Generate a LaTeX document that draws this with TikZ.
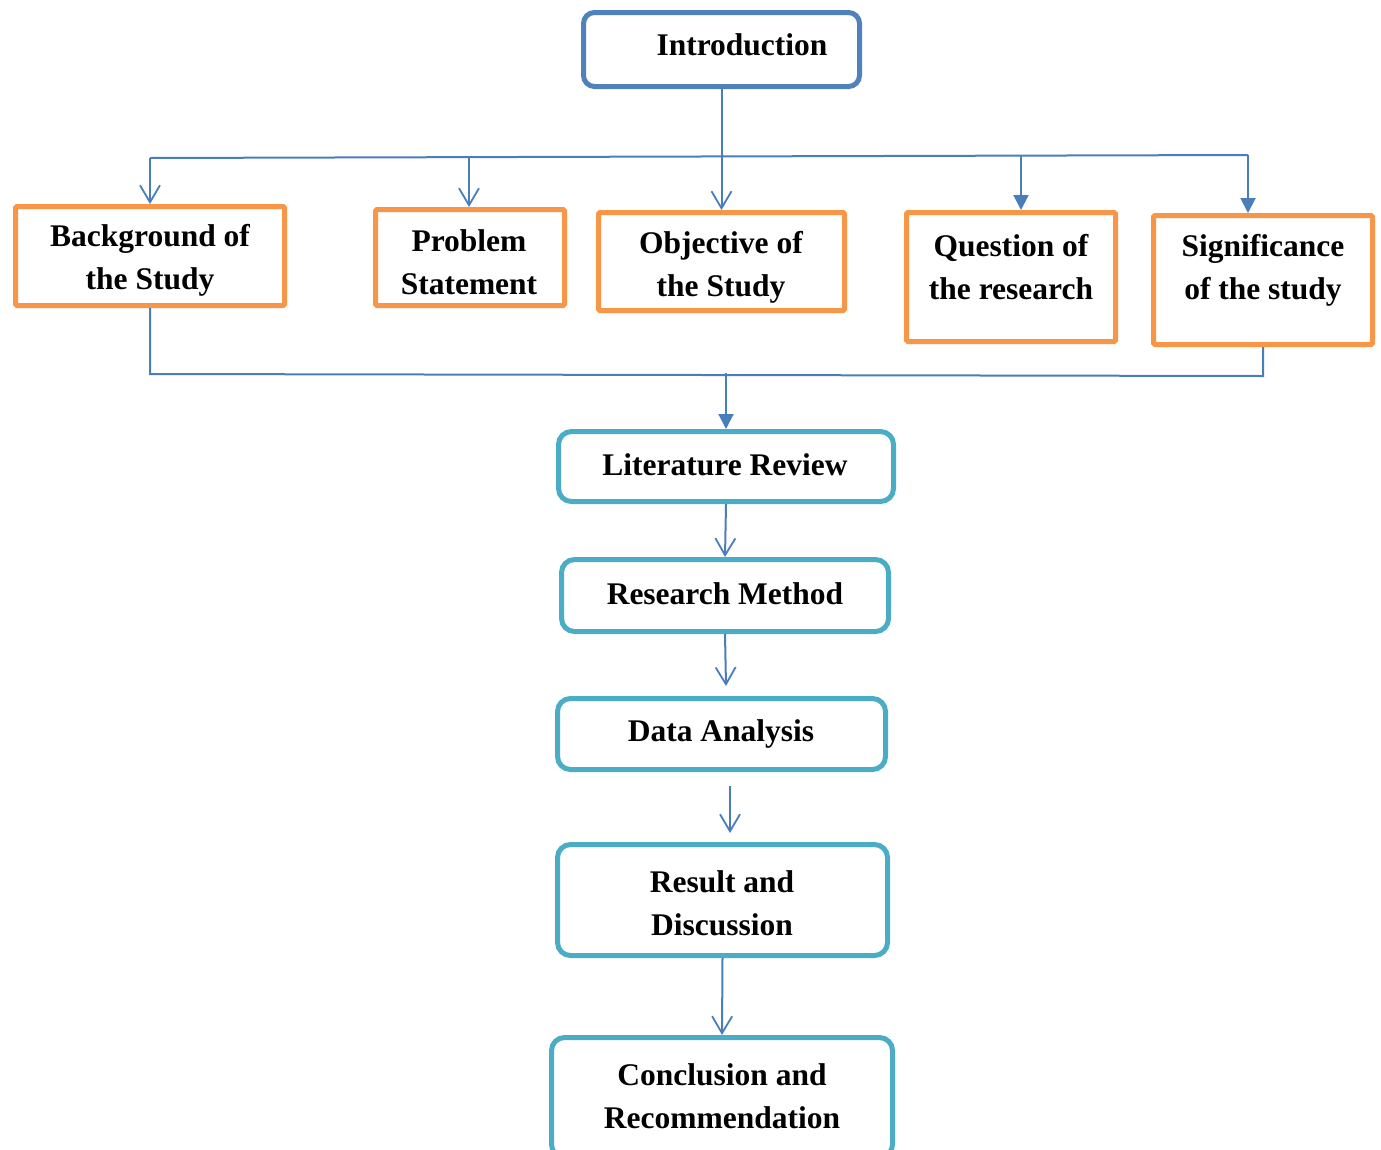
\documentclass[tikz,border=0pt]{standalone}
\usepackage{fontspec}
\setmainfont{Liberation Serif}
\usetikzlibrary{arrows.meta}
\definecolor{introblue}{RGB}{79,129,189}
\definecolor{lineblue}{RGB}{74,126,187}
\definecolor{orangebox}{RGB}{247,150,70}
\definecolor{tealbox}{RGB}{75,172,198}
\tikzset{
  introbox/.style={draw=introblue, line width=5pt, rounded corners=11pt, inner sep=0pt},
  obox/.style={draw=orangebox, line width=5pt, rounded corners=1.5pt, inner sep=0pt},
  tbox/.style={draw=tealbox, line width=5pt, rounded corners=13pt, inner sep=0pt},
  lbl/.style={font=\fontsize{31.5}{43}\selectfont\bfseries, align=center, inner sep=0pt},
  conn/.style={draw=lineblue, line width=2pt},
  openarr/.style={conn, -{Straight Barb[length=17pt,width=20pt,line width=1.8pt]}},
  fillarr/.style={conn, -{Triangle[length=15pt,width=15pt]}}
}
\begin{document}
\begin{tikzpicture}[x=1pt,y=-1pt]
\useasboundingbox (0,0) rectangle (1381,1149);
\fill[white] (0,0) rectangle (1381,1149);
% boxes
\node[introbox, minimum width=276pt, minimum height=74pt] (intro) at (721.5,49.5) {};
\node[obox, minimum width=269pt, minimum height=99pt] (bg) at (150,256) {};
\node[obox, minimum width=189pt, minimum height=96pt] (ps) at (470,257.5) {};
\node[obox, minimum width=246pt, minimum height=98pt] (obj) at (721.5,261.5) {};
\node[obox, minimum width=209pt, minimum height=129pt] (q) at (1011,277) {};
\node[obox, minimum width=219pt, minimum height=129pt] (sig) at (1263,280) {};
\node[tbox, minimum width=335pt, minimum height=70pt] (lr) at (726,466.5) {};
\node[tbox, minimum width=327pt, minimum height=72pt] (rm) at (725,595.5) {};
\node[tbox, minimum width=328pt, minimum height=71pt] (da) at (721.5,734) {};
\node[tbox, minimum width=330pt, minimum height=111pt] (rd) at (722.5,900) {};
\node[tbox, minimum width=341pt, minimum height=120pt] (cr) at (722,1097.5) {};
% labels
\node[lbl] (introt) at (742,45) {Introduction};
\node[lbl] (bgt) at (150,260) {Background of\\the Study};
\node[lbl] (pst) at (469,262) {Problem\\Statement};
\node[lbl] (objt) at (721,267) {Objective of\\the Study};
\node[lbl] (qt) at (1011,267) {Question of\\the research};
\node[lbl] (sigt) at (1263,270) {Significance\\of the study};
\node[lbl] (lrt) at (725,465) {Literature Review};
\node[lbl] (rmt) at (725,594) {Research Method};
\node[lbl] (dat) at (721,734) {Data Analysis};
\node[lbl] (rdt) at (722,903) {Result and\\Discussion};
\node[lbl] (crt) at (722,1096) {Conclusion and\\Recommendation};
% connectors top
\coordinate (hl) at (150,158);
\coordinate (hr) at (1248,155);
\coordinate (hp) at (469,158);
\coordinate (hq) at (1021,156);
\draw[conn] (hl) -- (hr);
\draw[openarr] (intro.south) -- (obj.north);
\draw[openarr] (hl) -- (bg.north);
\draw[openarr] (hp) -- (hp |- ps.north);
\draw[fillarr] (hq) -- (hq |- q.north);
\draw[fillarr] (hr) -- (hr |- sig.north);
% connectors bottom
\coordinate (bl) at (150,374);
\coordinate (br) at (1263,376);
\coordinate (bm) at (726,373);
\draw[conn] (bg.south) -- (bl) -- (br) -- (sig.south);
\draw[fillarr] (bm) -- (lr.north);
% chain
\coordinate (c1) at (726,686);
\coordinate (c2) at (730,786);
\coordinate (c3) at (730,833);
\draw[openarr] (lr.south) -- (rm.north);
\draw[openarr] (rm.south) -- (c1);
\draw[openarr] (c2) -- (c3);
\draw[openarr] (rd.south) -- (cr.north);
\end{tikzpicture}
\end{document}
